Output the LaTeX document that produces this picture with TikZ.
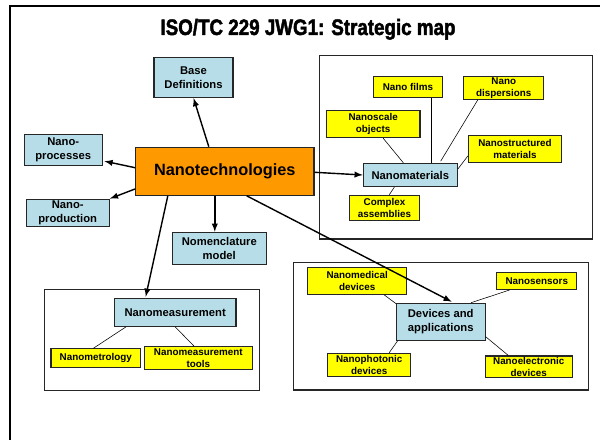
\documentclass[tikz,border=0pt]{standalone}
\usepackage{fontspec}
\setmainfont{Liberation Sans}
\newfontfamily\titlefont[FakeStretch=0.84,FakeBold=2]{Liberation Sans Bold}
\usetikzlibrary{arrows,calc,positioning}
\definecolor{nanoblue}{RGB}{183,222,232}
\definecolor{nanoorange}{RGB}{255,153,0}
\definecolor{nanoyellow}{RGB}{255,255,0}

\begin{document}
\begin{tikzpicture}[x=0.025cm,y=-0.025cm,
  bluebox/.style={draw=black!85,line width=0.8pt,fill=nanoblue,align=center,inner sep=0pt,font=\fontsize{8}{10}\selectfont\bfseries},
  yellowbox/.style={draw=black!85,line width=0.8pt,fill=nanoyellow,align=center,inner sep=0pt,font=\fontsize{7}{8.4}\selectfont\bfseries},
  groupframe/.style={draw=black!85,line width=0.8pt},
  link/.style={-latex,line width=1pt},
  leg/.style={line width=0.4pt}]
\clip (0,0) rectangle (600,440);
\fill[white] (0,0) rectangle (600,440);
\draw[line width=1.6pt] (10,450) -- (10,6) -- (610,6);
\node[anchor=base,font=\fontsize{15.9}{18}\titlefont] (title) at (308,35) {ISO/TC 229 JWG1: Strategic map};

\draw[groupframe] (319.3,55.7) rectangle (592.3,239);
\draw[groupframe] (44.3,289.3) rectangle (259.3,390.3);
\draw[groupframe] (293.3,262.3) rectangle (588.3,390);

\node[draw=black!85,line width=0.8pt,fill=nanoorange,inner sep=0pt,minimum width=4.46cm,minimum height=1.2cm,font=\fontsize{11.6}{14}\selectfont\bfseries] (tech) at (224.8,171.3) {Nanotechnologies};
\node[bluebox,minimum width=1.975cm,minimum height=1cm] (base) at (193.5,77.5) {Base\\Definitions};
\node[bluebox,minimum width=1.95cm,minimum height=0.78cm] (proc) at (63.2,150) {Nano-\\processes};
\node[bluebox,minimum width=2.08cm,minimum height=0.68cm] (prod) at (67.7,212.8) {Nano-\\production};
\node[bluebox,minimum width=2.35cm,minimum height=0.8cm] (nomen) at (219.3,248.3) {Nomenclature\\model};

\node[bluebox,minimum width=2.35cm,minimum height=0.585cm] (mat) at (410.3,175) {Nanomaterials};
\node[yellowbox,minimum width=1.74cm,minimum height=0.52cm] (films) at (408,87) {Nano films};
\node[yellowbox,minimum width=2cm,minimum height=0.565cm] (disp) at (503.8,88) {Nano\\dispersions};
\node[yellowbox,minimum width=2.34cm,minimum height=0.675cm] (objs) at (373.2,124.2) {Nanoscale\\objects};
\node[yellowbox,minimum width=2.33cm,minimum height=0.675cm] (struct) at (515,148.8) {Nanostructured\\materials};
\node[yellowbox,minimum width=1.74cm,minimum height=0.62cm] (complex) at (384.5,207.7) {Complex\\assemblies};

\node[bluebox,minimum width=3.04cm,minimum height=0.7cm] (meas) at (175.2,312.3) {Nanomeasurement};
\node[yellowbox,minimum width=2.24cm,minimum height=0.47cm] (metro) at (95.8,358.3) {Nanometrology};
\node[yellowbox,minimum width=2.7cm,minimum height=0.58cm] (tools) at (198.3,358.3) {Nanomeasurement\\tools};

\node[bluebox,minimum width=2.22cm,minimum height=0.92cm] (dev) at (440.7,321.7) {Devices and\\applications};
\node[yellowbox,minimum width=2.475cm,minimum height=0.675cm] (med) at (357.2,280.8) {Nanomedical\\devices};
\node[yellowbox,minimum width=2cm,minimum height=0.425cm] (sens) at (536.8,280.8) {Nanosensors};
\node[yellowbox,minimum width=2.075cm,minimum height=0.57cm] (phot) at (369.2,364.7) {Nanophotonic\\devices};
\node[yellowbox,minimum width=2.18cm,minimum height=0.54cm] (elec) at (528.7,366.8) {Nanoelectronic\\devices};

\draw[link] ($(tech.north)+(-16,0)$) -- (base.south);
\draw[link] ($(tech.west)+(0,-3.6)$) -- ($(proc.south east)+(1.7,-5)$);
\draw[link] ($(tech.west)+(0,17.7)$) -- (prod.north east);
\draw[link] ($(tech.south)+(-10,0)$) coordinate(s4) -- (s4 |- nomen.north);
\draw[link] ($(tech.south)+(-57,0)$) -- ($(meas.north)+(-29.5,-1)$);
\draw[link] ($(tech.south)+(22,0)$) -- ($(dev.north)+(11,-1)$);
\draw[link] ($(tech.east)+(0,1)$) -- (mat.west);

\draw[leg] ($(objs.south)+(10,0)$) -- ($(mat.north)+(-7,0)$);
\draw[leg] ($(films.south)+(23.7,0)$) coordinate(f1) -- (f1 |- mat.north);
\draw[leg] ($(disp.south)+(-26,0)$) -- ($(mat.north)+(30.4,-1.6)$);
\draw[leg] ($(struct.west)+(0,7.2)$) -- ($(mat.east)+(0,-6)$);
\draw[leg] ($(complex.north)+(4.8,0)$) -- ($(mat.south)+(-16,0)$);

\draw[leg] ($(meas.south)+(-49.2,0)$) -- ($(metro.north)+(-2.5,0)$);
\draw[leg] (meas.south) -- ($(tools.north)+(-4.3,0)$);

\draw[leg] ($(med.south)+(27,0)$) -- ($(dev.north west)+(0.4,1)$);
\draw[leg] ($(sens.south)+(-26.8,0)$) -- ($(dev.north)+(30.3,0)$);
\draw[leg] ($(phot.north)+(20,0)$) -- ($(dev.south west)+(2,0)$);
\draw[leg] ($(elec.north)+(-20.4,0)$) -- ($(dev.east)+(0,15)$);
\end{tikzpicture}
\end{document}
